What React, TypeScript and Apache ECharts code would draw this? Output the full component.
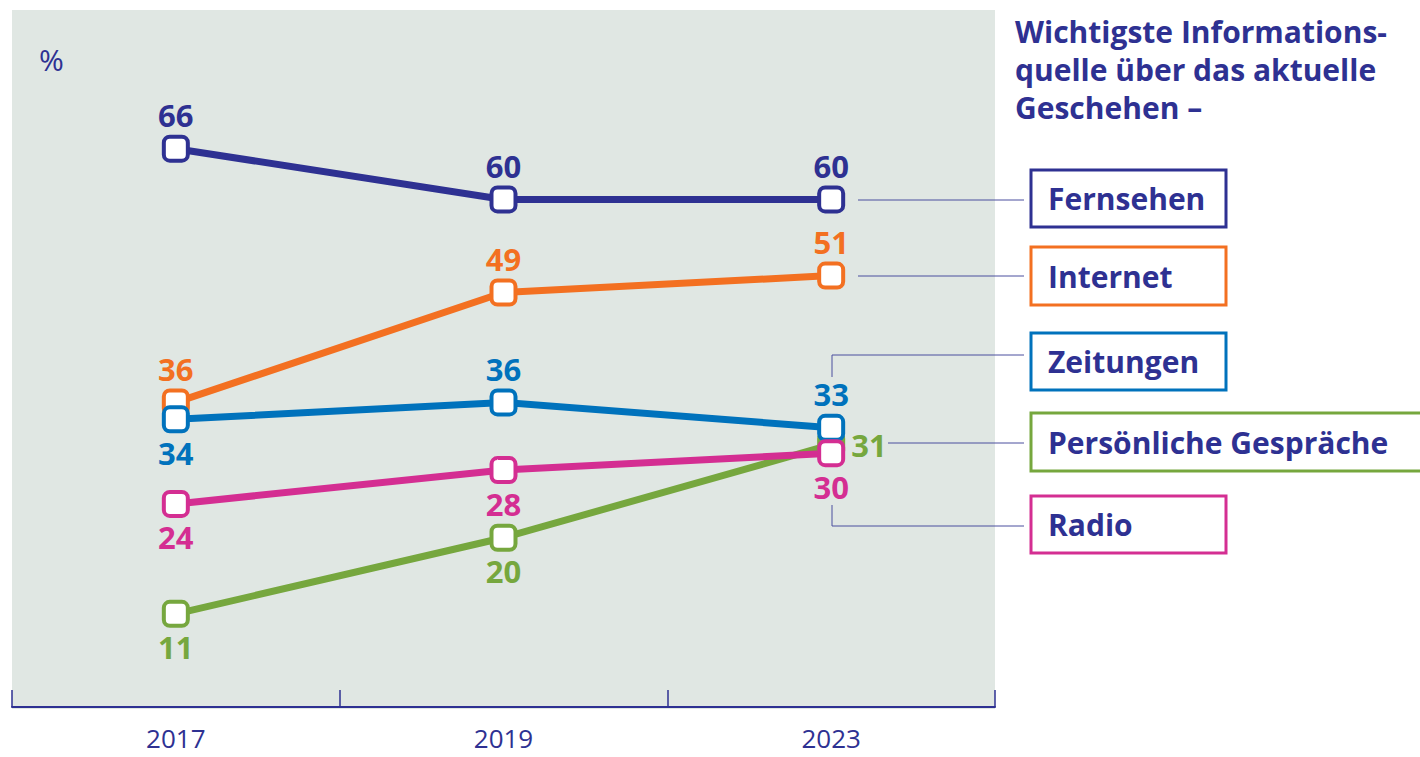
import { useEffect, useRef } from "react";
import * as echarts from "echarts";

const years = ["2017", "2019", "2023"];
const fernsehen = [66, 60, 60];
const internet = [36, 49, 51];
const zeitungen = [34, 36, 33];
const gespraeche = [11, 20, 31];
const radio = [24, 28, 30];

const titleLines = ["Wichtigste Informations-", "quelle über das aktuelle", "Geschehen –"];
const unitLabel = "%";

const NAVY = "#2E3192";
const FONT = "'Open Sans', Lato, sans-serif";

type Spec = {
  name: string;
  values: number[];
  color: string;
  labelPos: string[];
  box: { x: number; y: number; w: number; h: number };
  connector: number[][];
};

const specs: Spec[] = [
  {
    name: "Persönliche Gespräche",
    values: gespraeche,
    color: "#76A73E",
    labelPos: ["bottom", "bottom", "right"],
    box: { x: 1031, y: 413, w: 395, h: 58 },
    connector: [[888, 443], [1024, 443]],
  },
  {
    name: "Internet",
    values: internet,
    color: "#F37021",
    labelPos: ["top", "top", "top"],
    box: { x: 1031, y: 247, w: 195, h: 58 },
    connector: [[858, 276], [1024, 276]],
  },
  {
    name: "Zeitungen",
    values: zeitungen,
    color: "#0072BC",
    labelPos: ["bottom", "top", "top"],
    box: { x: 1031, y: 333, w: 195, h: 57 },
    connector: [[832, 377], [832, 355], [1024, 355]],
  },
  {
    name: "Radio",
    values: radio,
    color: "#D42E92",
    labelPos: ["bottom", "bottom", "bottom"],
    box: { x: 1031, y: 496, w: 195, h: 57 },
    connector: [[832, 505], [832, 526], [1024, 526]],
  },
  {
    name: "Fernsehen",
    values: fernsehen,
    color: NAVY,
    labelPos: ["top", "top", "top"],
    box: { x: 1031, y: 170, w: 195, h: 57 },
    connector: [[858, 200], [1024, 200]],
  },
];

export default function App() {
  const ref = useRef<HTMLDivElement>(null);

  useEffect(() => {
    if (!ref.current) return;
    const chart = echarts.init(ref.current, null, { renderer: "svg" });

    const series = specs.map((s) => ({
      type: "line",
      name: s.name,
      data: s.values.map((v, i) => ({
        value: v,
        label: {
          position: s.labelPos[i],
          distance: s.labelPos[i] === "right" ? 6 : 4,
        },
      })),
      symbol: "roundRect",
      symbolSize: 24,
      lineStyle: { color: s.color, width: 7 },
      itemStyle: { color: "#ffffff", borderColor: s.color, borderWidth: 4 },
      label: {
        show: true,
        color: s.color,
        fontFamily: FONT,
        fontWeight: "bold",
        fontSize: 31,
      },
      emphasis: { disabled: true },
    }));

    const graphics: any[] = [];
    specs.forEach((s) => {
      graphics.push({
        type: "polyline",
        shape: { points: s.connector },
        style: { stroke: "#4a4e9e", lineWidth: 1, fill: null },
        silent: true,
      });
      graphics.push({
        type: "rect",
        shape: { x: s.box.x, y: s.box.y, width: s.box.w, height: s.box.h },
        style: { fill: "#ffffff", stroke: s.color, lineWidth: 3 },
        silent: true,
      });
      graphics.push({
        type: "text",
        x: s.box.x + 17,
        y: s.box.y + s.box.h / 2,
        style: {
          text: s.name,
          fill: NAVY,
          font: `bold 30px ${FONT}`,
          verticalAlign: "middle",
          align: "left",
        },
        silent: true,
      });
    });
    graphics.push({
      type: "text",
      x: 1015,
      y: 12,
      style: {
        text: titleLines.join("\n"),
        fill: NAVY,
        font: `bold 30px ${FONT}`,
        lineHeight: 38,
        verticalAlign: "top",
      },
      silent: true,
    });
    graphics.push({
      type: "text",
      x: 39,
      y: 59,
      style: {
        text: unitLabel,
        fill: NAVY,
        font: `30px ${FONT}`,
        verticalAlign: "middle",
      },
      silent: true,
    });

    chart.setOption({
      animation: false,
      grid: {
        show: true,
        backgroundColor: "#E0E7E3",
        borderWidth: 0,
        left: 12,
        right: 425,
        top: 10,
        bottom: 48,
      },
      xAxis: {
        type: "category",
        data: years,
        boundaryGap: true,
        z: 10,
        axisLine: { show: true, lineStyle: { color: NAVY, width: 2 } },
        axisTick: {
          show: true,
          inside: true,
          alignWithLabel: false,
          interval: 0,
          length: 17,
          lineStyle: { color: NAVY, width: 1.5 },
        },
        axisLabel: { color: NAVY, fontFamily: FONT, fontSize: 26, lineHeight: 26, margin: 16 },
      },
      yAxis: {
        type: "value",
        min: -0.25,
        max: 82.4,
        show: false,
        splitLine: { show: false },
      },
      series,
      graphic: graphics,
    });

    return () => chart.dispose();
  }, []);

  return (
    <div
      ref={ref}
      style={{ position: "fixed", left: 0, top: 0, width: 1420, height: 757, background: "#ffffff" }}
    />
  );
}
